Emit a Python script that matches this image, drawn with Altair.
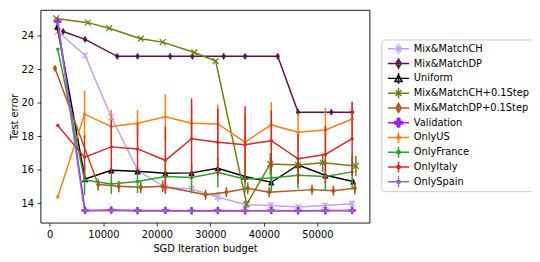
import altair as alt
import pandas as pd

# ---------------- data ----------------
series_names = ["Mix&MatchCH", "Mix&MatchDP", "Uniform", "Mix&MatchCH+0.1Step",
                "Mix&MatchDP+0.1Step", "Validation", "OnlyUS", "OnlyFrance",
                "OnlyItaly", "OnlySpain"]
series_colors = ["#c4a2f0", "#5e0f47", "#000000", "#717d0d", "#b0561e",
                 "#9a20e8", "#ff7f0e", "#2ca02c", "#d62728", "#9467bd"]

ch_x = [1500, 6600, 11500, 16500, 21600, 26500, 31400, 36600, 41300, 46400, 51400, 56500]
ch_y = [24.25, 22.83, 19.15, 15.94, 14.96, 14.86, 14.38, 13.92, 13.88, 13.79, 13.88, 13.98]
ch_e = [0.1, 0.15, 0.2, 0.2, 0.35, 0.3, 0.3, 0.15, 0.2, 0.15, 0.15, 0.2]

dp_x = [2500, 6600, 12600, 16400, 22500, 26650, 32500, 36500, 42600, 46400, 52600, 56500]
dp_y = [24.25, 23.78, 22.77, 22.77, 22.77, 22.77, 22.77, 22.77, 22.77, 19.44, 19.44, 19.44]
dp_e = [0.05] * 12

un_x = [1400, 6600, 11500, 16400, 21600, 26500, 31400, 36500, 41400, 46400, 51500, 56700]
un_y = [24.55, 15.45, 15.98, 15.92, 15.8, 15.82, 16.1, 15.6, 15.26, 16.29, 15.68, 15.31]
un_e = [0.05, 0.1, 0.1, 0.1, 0.1, 0.1, 0.1, 0.1, 0.1, 0.1, 0.1, 0.1]

chs_x = [1200, 7100, 11100, 17000, 21100, 27000, 31000, 36800, 41200, 46400, 51000, 57200]
chs_y = [25.03, 24.78, 24.45, 23.82, 23.62, 23.0, 22.49, 13.95, 16.35, 16.29, 16.43, 16.23]
chs_e = [0.05, 0.05, 0.05, 0.05, 0.05, 0.05, 0.05, 0.2, 0.65, 0.4, 0.55, 0.6]

dps_x = [970, 9060, 12900, 17000, 21100, 29100, 33000, 37000, 41000, 49000, 53000, 57000]
dps_y = [22.06, 15.12, 15.02, 14.96, 15.02, 14.51, 14.67, 14.9, 14.67, 14.82, 14.76, 14.9]
dps_e = [0.1, 0.35, 0.35, 0.35, 0.35, 0.3, 0.3, 0.35, 0.3, 0.3, 0.3, 0.35]

val_x = [1500, 6600, 11500, 16400, 21600, 26500, 31400, 36500, 41400, 46400, 51500, 56500]
val_y = [24.85, 13.58, 13.6, 13.57, 13.58, 13.56, 13.58, 13.56, 13.58, 13.56, 13.57, 13.58]
val_e = [0.05] * 12

only_x = [1500, 6500, 11500, 16400, 21600, 26500, 31400, 36500, 41400, 46400, 51500, 56500]
us_y = [14.38, 19.32, 18.58, 18.78, 19.16, 18.78, 18.74, 17.66, 18.68, 18.25, 18.38, 19.03]
us_e = [0.0, 1.4, 1.0, 0.8, 1.35, 1.0, 1.15, 1.66, 1.36, 1.13, 1.34, 1.0]
fr_y = [23.2, 15.39, 15.16, 15.31, 15.6, 15.55, 15.84, 15.45, 15.51, 15.68, 15.6, 15.88]
fr_e = [0.0, 0.9, 0.6, 0.7, 0.8, 0.8, 0.88, 0.8, 0.8, 0.8, 0.8, 1.0]
it_y = [18.65, 16.76, 17.37, 17.25, 16.57, 17.86, 17.64, 17.5, 17.74, 16.66, 16.92, 17.86]
it_e = [0.0, 1.3, 1.6, 1.5, 2.0, 2.4, 2.0, 2.3, 1.8, 1.5, 1.7, 2.2]
sp_y = [24.7, 13.55, 13.57, 13.55, 13.55, 13.54, 13.55, 13.55, 13.56, 13.55, 13.56, 13.56]
sp_e = [0.0, 0.08, 0.08, 0.08, 0.08, 0.08, 0.08, 0.08, 0.08, 0.08, 0.08, 0.08]

x_ticks = [0, 10000, 20000, 30000, 40000, 50000]
y_ticks = [14, 16, 18, 20, 22, 24]

series_data = [
    ("Mix&MatchCH", ch_x, ch_y, ch_e),
    ("Mix&MatchDP", dp_x, dp_y, dp_e),
    ("Uniform", un_x, un_y, un_e),
    ("Mix&MatchCH+0.1Step", chs_x, chs_y, chs_e),
    ("Mix&MatchDP+0.1Step", dps_x, dps_y, dps_e),
    ("Validation", val_x, val_y, val_e),
    ("OnlyUS", only_x, us_y, us_e),
    ("OnlyFrance", only_x, fr_y, fr_e),
    ("OnlyItaly", only_x, it_y, it_e),
    ("OnlySpain", only_x, sp_y, sp_e),
]

rows = []
for name, xs, ys, es in series_data:
    for xv, yv, ev in zip(xs, ys, es):
        rows.append({"series": name, "x": xv, "y": yv, "lo": yv - ev, "hi": yv + ev})
df = pd.DataFrame(rows)

# ---------------- marker shapes ----------------
X_PATH = "M-1,-1L1,1M-1,1L1,-1"
DIAMOND = "M0,-1L0.6,0L0,1L-0.6,0Z"
TRIANGLE = "M0,-1L1,1L-1,1Z"
PLUS = "M-0.33,-1H0.33V-0.33H1V0.33H0.33V1H-0.33V0.33H-1V-0.33H-0.33Z"
DOT = "M1,0A1,1 0 1,1 -1,0A1,1 0 1,1 1,0Z"

marker = {
    "Mix&MatchCH": (X_PATH, 36, False),
    "Mix&MatchDP": (DIAMOND, 56, True),
    "Uniform": (TRIANGLE, 42, True),
    "Mix&MatchCH+0.1Step": (X_PATH, 36, False),
    "Mix&MatchDP+0.1Step": (DIAMOND, 56, True),
    "Validation": (PLUS, 56, True),
    "OnlyUS": (DOT, 12, True),
    "OnlyFrance": (DOT, 12, True),
    "OnlyItaly": (DOT, 12, True),
    "OnlySpain": (DOT, 12, True),
}

# legend symbols: line + vertical errorbar + marker (units of half symbol box = 4px)
LINE = "M-2.68,0L2.68,0M0,-1.38L0,1.38"
leg_marker = {
    "x": "M-0.73,-0.73L0.73,0.73M-0.73,0.73L0.73,-0.73",
    "d": "M0,-1.14L0.68,0L0,1.14L-0.68,0Z",
    "t": "M0,-0.89L0.89,0.81L-0.89,0.81Z",
    "p": "M-0.33,-0.98H0.33V-0.33H0.98V0.33H0.33V0.98H-0.33V0.33H-0.98V-0.33H-0.33Z",
    ".": "M0.46,0L0.32,0.32L0,0.46L-0.32,0.32L-0.46,0L-0.32,-0.32L0,-0.46L0.32,-0.32Z",
}
leg_kind = ["x", "d", "t", "x", "d", "p", ".", ".", ".", "."]
legend_shapes = [LINE + leg_marker[k] for k in leg_kind]

x_enc = alt.X("x:Q", scale=alt.Scale(domain=[-1728, 59740], nice=False, zero=False),
              axis=alt.Axis(values=x_ticks, format="d", title="SGD Iteration budget"))
y_scale = alt.Scale(domain=[12.85, 25.54], nice=False, zero=False)
y_axis = alt.Axis(values=y_ticks, format="d", title="Test error")

base = alt.Chart(df)
layers = []
for name, colr in zip(series_names, series_colors):
    sub = base.transform_filter(alt.datum.series == name)
    err = sub.mark_rule(strokeWidth=1.5, color=colr).encode(
        x=x_enc, y=alt.Y("lo:Q", scale=y_scale, axis=y_axis), y2="hi:Q")
    line = sub.mark_line(strokeWidth=1.5, color=colr).encode(
        x=x_enc, y=alt.Y("y:Q", scale=y_scale, axis=y_axis))
    shp, sz, filled = marker[name]
    if filled:
        pts = sub.mark_point(shape=shp, size=sz, filled=True, opacity=1, color=colr)
    else:
        pts = sub.mark_point(shape=shp, size=sz, filled=False, strokeWidth=1.2,
                             opacity=1, color=colr)
    pts = pts.encode(x=x_enc, y=alt.Y("y:Q", scale=y_scale, axis=y_axis))
    layers += [err, line, pts]

legend_layer = base.mark_point(opacity=0, filled=True).encode(
    x=x_enc,
    y=alt.Y("y:Q", scale=y_scale, axis=y_axis),
    color=alt.Color("series:N", scale=alt.Scale(domain=series_names, range=series_colors),
                    title=None,
                    legend=alt.Legend(orient="none", legendX=346, legendY=30,
                                      symbolOpacity=1, clipHeight=13)),
    stroke=alt.Stroke("series:N", scale=alt.Scale(domain=series_names, range=series_colors),
                      title=None),
    shape=alt.Shape("series:N", scale=alt.Scale(domain=series_names, range=legend_shapes),
                    title=None),
)
layers.append(legend_layer)

chart = alt.layer(*layers).properties(
    width=334, height=216,
    autosize=alt.AutoSizeParams(type="none"),
    padding={"left": 33, "top": 0, "right": 165, "bottom": 38},
).configure_view(
    stroke="#000000", strokeWidth=0.9
).configure_axis(
    grid=False, domain=False,
    labelFont="DejaVu Sans", labelFontSize=10, labelColor="#000000",
    titleFont="DejaVu Sans", titleFontSize=10, titleFontWeight="normal", titleColor="#000000",
    tickColor="#000000", tickSize=3.5, tickWidth=0.8, labelPadding=3.5,
).configure_axisX(titlePadding=4).configure_axisY(titlePadding=2).configure_legend(
    labelFont="DejaVu Sans", labelFontSize=10, labelColor="#000000",
    symbolSize=64, symbolStrokeWidth=1.5, symbolOffset=9.5, labelOffset=10.5,
    padding=3, rowPadding=2, strokeColor="#cccccc", fillColor="#ffffff",
    cornerRadius=3, labelLimit=300,
)

chart.save("out.html", embed_options={"renderer": "svg", "actions": False})
